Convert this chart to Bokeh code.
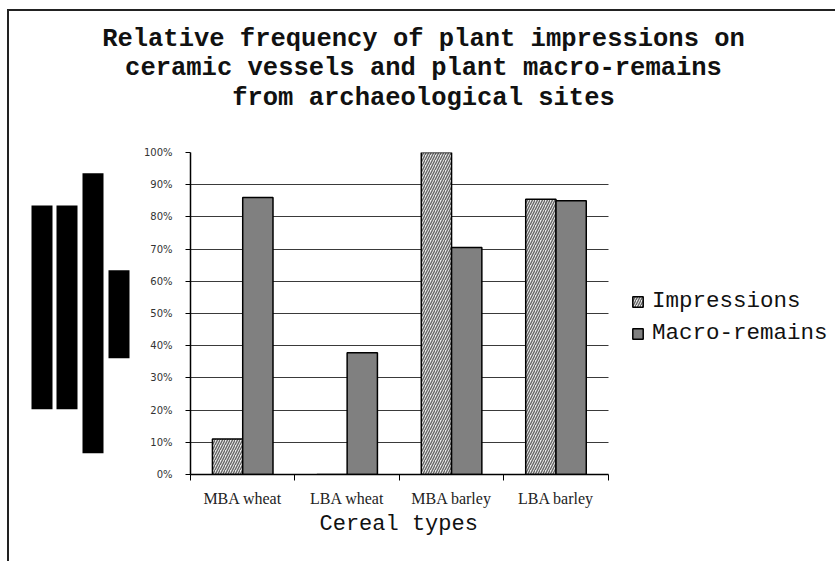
from bokeh.plotting import figure
from bokeh.layouts import column, row
from bokeh.models import (Range1d, FixedTicker, NumeralTickFormatter, Legend, LegendItem,
                          ColumnDataSource, Title)
from bokeh.transform import dodge
from bokeh.embed import file_html
from bokeh.resources import INLINE

# ---- data ----
categories = ["MBA wheat", "LBA wheat", "MBA barley", "LBA barley"]
impressions = [0.11, 0.0, 1.0, 0.855]
macro_remains = [0.86, 0.378, 0.705, 0.85]
y_ticks = [0.0, 0.1, 0.2, 0.3, 0.4, 0.5, 0.6, 0.7, 0.8, 0.9, 1.0]
grid_ticks = [0.1, 0.2, 0.3, 0.4, 0.5, 0.6, 0.7, 0.8, 0.9]
series_names = ["Impressions", "Macro-remains"]
title_text = ("Relative frequency of plant impressions on\n"
              "ceramic vessels and plant macro-remains\n"
              "from archaeological sites")
x_title = "Cereal types"

# ---- layout constants (page pixels) ----
W, H = 835, 561
TOP_H = 115           # height of the title strip
LEFT_W = 140          # width of the strip left of the chart
FRAME_L, FRAME_R, FRAME_T, FRAME_B = 188, 607, 152, 474
BORDER_CSS = ("linear-gradient(#222,#222) 7px 9px / 2px 560px no-repeat, "
              "linear-gradient(#222,#222) 7px 9px / 830px 2px no-repeat, white")


def bare(fig):
    fig.outline_line_color = None
    fig.background_fill_alpha = 0
    fig.border_fill_alpha = 0
    fig.axis.visible = False
    fig.grid.visible = False
    return fig


# ---- title strip ----
top = bare(figure(width=W, height=TOP_H, output_backend="svg", toolbar_location=None,
                  x_range=Range1d(0, W), y_range=Range1d(TOP_H, 0),
                  min_border=0))
top.text(x=[423], y=[68.5], text=[title_text], text_align="center",
         text_baseline="middle", text_font={"value": "Liberation Mono"},
         text_font_style="bold", text_font_size="25.5px", text_line_height=1.02,
         text_color="#111111")

# ---- strip left of the chart (solid blocks as in the reference) ----
left = bare(figure(width=LEFT_W, height=H - TOP_H, output_backend="svg",
                   toolbar_location=None, x_range=Range1d(0, LEFT_W),
                   y_range=Range1d(FRAME_B, FRAME_T),
                   min_border_left=0, min_border_right=0,
                   min_border_top=FRAME_T - TOP_H, min_border_bottom=H - FRAME_B))
left.quad(left=[31, 56, 82, 108], right=[52, 77, 103, 129],
          top=[205, 205, 172.7, 269.7], bottom=[408.7, 408.7, 452.7, 357.7],
          fill_color="black", line_color=None)

# ---- main chart ----
n = len(categories)
x_end = n * (W - FRAME_L) / (FRAME_R - FRAME_L)
centers = [i + 0.5 for i in range(n)]
bounds = [float(i) for i in range(n + 1)]
src = ColumnDataSource(dict(center=centers, imp=impressions, mac=macro_remains))

p = figure(width=W - LEFT_W, height=H - TOP_H, output_backend="svg", toolbar_location=None,
           x_range=Range1d(0, x_end), y_range=Range1d(0, 1.0),
           min_border_left=FRAME_L - LEFT_W, min_border_right=0,
           min_border_top=FRAME_T - TOP_H, min_border_bottom=H - FRAME_B)
p.outline_line_color = None
p.background_fill_color = "white"
p.border_fill_color = "white"

bw = 0.29
r_imp = p.vbar(x=dodge("center", -bw / 2), top="imp", width=bw, source=src,
               fill_color="#ececec", hatch_pattern="/", hatch_color="#666666",
               hatch_scale=5, hatch_weight=1.4, line_color="black", line_width=1.5)
r_mac = p.vbar(x=dodge("center", bw / 2), top="mac", width=bw, source=src,
               fill_color="#808080", line_color="black", line_width=1.5)

xa = p.xaxis[0]
xa.bounds = (0, n)
xa.ticker = FixedTicker(ticks=centers, minor_ticks=bounds)
xa.major_label_overrides = {c: lab for c, lab in zip(centers, categories)}
xa.major_tick_out = 0
xa.major_tick_in = 0
xa.minor_tick_out = 6
xa.minor_tick_in = 0
xa.minor_tick_line_color = "black"
xa.axis_line_color = "black"
xa.axis_line_width = 1.5
xa.major_label_text_font = "Liberation Serif"
xa.major_label_text_font_size = "16px"
xa.major_label_text_color = "#222222"
xa.major_label_standoff = 9

# x-axis title, centred under the category axis
p.add_layout(Title(text=x_title, align="left", offset=317 - FRAME_L, standoff=0,
                   text_font="Liberation Mono", text_font_style="normal",
                   text_font_size="22px", text_color="#111111"), "below")

ya = p.yaxis[0]
ya.bounds = (0, 1)
ya.ticker = FixedTicker(ticks=y_ticks)
ya.formatter = NumeralTickFormatter(format="0%")
ya.major_tick_out = 5
ya.major_tick_in = 0
ya.minor_tick_out = 0
ya.minor_tick_in = 0
ya.axis_line_color = "black"
ya.axis_line_width = 1.5
ya.major_tick_line_color = "black"
ya.major_label_text_font = "DejaVu Sans"
ya.major_label_text_font_size = "10px"
ya.major_label_text_color = "#333333"
ya.major_label_standoff = 13

p.xgrid.visible = False
p.ygrid.ticker = FixedTicker(ticks=grid_ticks)
p.ygrid.cross_bounds = (0, n)
p.ygrid.grid_line_color = "#3a3a3a"
p.ygrid.grid_line_width = 1

legend = Legend(items=[LegendItem(label=series_names[0], renderers=[r_imp]),
                       LegendItem(label=series_names[1], renderers=[r_mac])],
                location=(629 - FRAME_L, 128), orientation="vertical")
legend.label_text_font = "Liberation Mono"
legend.label_text_font_size = "22.5px"
legend.label_text_color = "#111111"
legend.glyph_width = 13
legend.glyph_height = 13
legend.label_standoff = 8
legend.label_height = 26
legend.spacing = 6
legend.padding = 6
legend.margin = 0
legend.border_line_color = None
legend.background_fill_alpha = 0
p.add_layout(legend)

layout = column(top, row(left, p), styles={"background": BORDER_CSS})
open("out.html", "w").write(file_html(layout, INLINE))
